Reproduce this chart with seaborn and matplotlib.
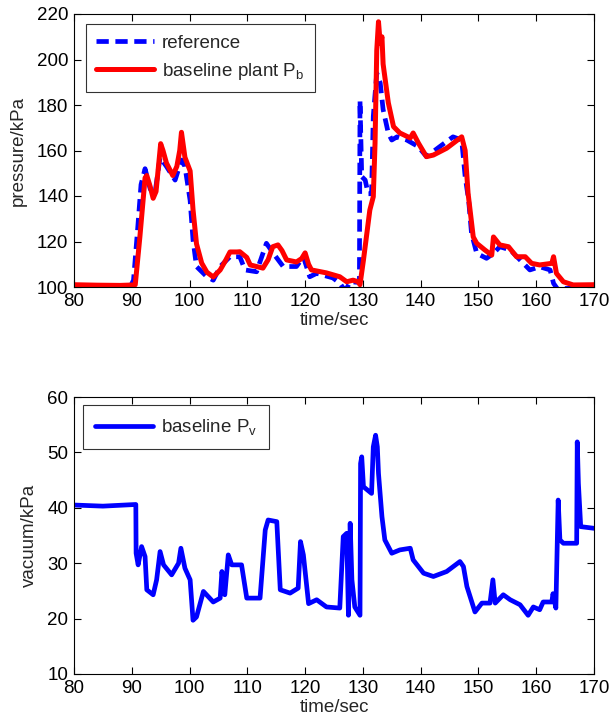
import matplotlib
matplotlib.use("Agg")
import matplotlib.pyplot as plt
import seaborn as sns
import pandas as pd

# --- brake chamber pressure: reference trajectory ---
ref_t = [80, 85, 89.8, 90.3, 91.0, 91.6, 92.3, 93.2, 94.0, 94.9, 96.0, 97.5, 98.6,
         99.2, 100.1, 100.6, 101.2, 103, 104.1, 105.3, 107, 108.7, 109.6, 111.6,
         113.3, 114.5, 116.2, 118.5, 119.7, 120.8, 122, 124.8, 126, 126.6, 127.1,
         127.8, 129.4, 129.5, 129.8, 130.4, 130.9, 131.5, 131.8, 132.4, 133, 133.5,
         134.4, 135, 135.9, 137.6, 139.6, 141, 143.3, 145.6, 147.1, 147.7, 148.3,
         148.8, 149.7, 151.4, 152.6, 153.7, 155.5, 157.2, 158.9, 160.6, 162.4, 163,
         163.8, 164.5, 167, 170]
ref_p = [100.3, 100.3, 100.4, 103, 125, 145, 152, 143, 141, 157, 153, 147, 155.8,
         153, 138, 120.7, 109, 104.5, 103, 109, 113.3, 113.3, 107.5, 106.7,
         119.2, 114.8, 109, 109, 113.3, 104.5, 106, 104, 101.7, 99.5, 99,
         102.3, 102, 182, 148.5, 147, 141, 141, 175, 194, 189.7, 178,
         167.6, 164.6, 166, 164.6, 161.7, 157.3, 161.7, 166, 164.6, 148.5, 138.2,
         123.6, 114.8, 112.6, 114.8, 117.7, 116.3, 111.9, 107.5, 108.9, 107.5, 101.6,
         98.7, 99.3, 99.5, 100.3]

# --- brake chamber pressure: baseline plant ---
pb_t = [80, 84, 88, 90.3, 90.6, 91.4, 92.3, 92.6, 93.2, 93.7, 94.2, 95.0, 95.4,
        96.0, 97.1, 97.8, 98.3, 98.6, 99.2, 100.1, 100.6, 101.2, 102.1, 103, 104.1,
        105.3, 106.2, 107, 108.2, 108.7, 109.9, 110.5, 112.7, 113.6, 114.4, 115.3,
        116.0, 116.8, 118.5, 119.4, 120, 120.6, 121.1, 123.7, 126, 127.2, 128.3,
        129.2, 129.5, 130.1, 131.2, 131.8, 132.1, 132.4, 132.7, 133, 133.3, 133.5,
        134.4, 135.3, 136.4, 138.2, 138.7, 139.6, 141, 142.2, 144.5, 147.1, 147.7,
        148.2, 149.1, 149.7, 151.1, 152.3, 152.6, 153.7, 155.2, 156.6, 158.1, 159.2,
        160.6, 162.7, 163, 163.5, 164.7, 166.4, 170]
pb_p = [101, 100.8, 100.7, 100.9, 101, 122, 148, 149, 144, 139, 142, 163, 160,
        154.5, 149, 153, 160, 168, 157, 151, 134, 119, 110.5, 106.5, 104.4,
        107.5, 111.5, 115.4, 115.4, 115.5, 113, 109.7, 108.3, 112, 117.7, 118.5,
        116, 111.9, 111, 112.5, 115, 110, 107.5, 106.2, 104.5, 102.3, 103,
        102.3, 101, 111.9, 133.8, 139.7, 163, 204, 216.6, 207, 210, 198,
        181, 170.5, 167.7, 165.5, 167.7, 163.3, 157.3, 158, 161, 166, 160,
        141.3, 122, 119.2, 116.3, 114, 122, 118.5, 117.7, 113.3, 113.3, 110.4,
        109.7, 110.4, 113.3, 106, 102.3, 100.9, 101]

# --- vacuum level of the baseline plant ---
pv_t = [80, 85, 90.7, 90.75, 91.1, 91.7, 92.3, 92.6, 93.7, 94.3, 94.9, 95.5, 96.9,
        98.1, 98.5, 99.2, 100.1, 100.6, 101.2, 102.4, 104.1, 105.3, 105.6, 106.1,
        106.7, 107.3, 109, 109.9, 112.2, 113.1, 113.6, 115.1, 115.7, 117.4, 118.8,
        119.2, 119.7, 120.6, 122, 123.7, 126, 126.6, 127.2, 127.5, 127.8, 128.1,
        128.6, 129.5, 129.6, 129.8, 130.1, 131.5, 131.8, 132.2, 132.5, 132.7, 133.3,
        133.8, 135, 136.4, 138.2, 138.7, 140.5, 142.2, 144.5, 146.8, 147.4, 148,
        149.4, 150.6, 152, 152.5, 152.9, 154.3, 155.5, 157.2, 158.6, 159.5, 160.6,
        161.2, 162.7, 162.9, 163.4, 163.8, 164.1, 164.7, 167, 167.1, 167.3, 167.7, 170]
pv_v = [40.5, 40.3, 40.6, 31.8, 29.7, 33, 31.2, 25.2, 24.3, 27, 32.1, 29.7, 27.9,
        30, 32.7, 29.1, 27, 19.7, 20.3, 24.9, 23, 23.7, 28.5, 24.3,
        31.5, 29.7, 29.7, 23.7, 23.7, 36, 37.8, 37.5, 25.2, 24.6, 25.5,
        33.9, 31.5, 22.7, 23.4, 22.1, 21.9, 34.8, 35.4, 20.6, 37.2, 27,
        22.1, 20.6, 48, 49.2, 43.8, 42.6, 51, 53.1, 51, 46.2, 38.4,
        34.2, 31.8, 32.4, 32.7, 30.6, 28.2, 27.6, 28.5, 30.3, 29.4, 25.8,
        21.2, 22.8, 22.8, 27, 22.8, 24.3, 23.4, 22.5, 20.6, 22.1, 21.6,
        23, 23, 24.5, 21.9, 41.4, 34.2, 33.6, 33.6, 51.9, 44.4, 36.6, 36.3]

time_ticks = [80, 90, 100, 110, 120, 130, 140, 150, 160, 170]
pressure_ticks = [100, 120, 140, 160, 180, 200, 220]
vacuum_ticks = [10, 20, 30, 40, 50, 60]

sns.set_style("ticks")
plt.rcParams["font.family"] = ["Liberation Sans", "DejaVu Sans"]
plt.rcParams["mathtext.fontset"] = "custom"
plt.rcParams["mathtext.rm"] = "Liberation Sans"
plt.rcParams["mathtext.it"] = "Liberation Sans:italic"
FS = 13.5

ref_df = pd.DataFrame({"t": ref_t, "p": ref_p})
pb_df = pd.DataFrame({"t": pb_t, "p": pb_p})
pv_df = pd.DataFrame({"t": pv_t, "v": pv_v})

fig = plt.figure(figsize=(6.12, 7.25), dpi=100)
ax1 = fig.add_axes([74 / 612, 1 - 287 / 725, 520 / 612, 273 / 725])
ax2 = fig.add_axes([74 / 612, 1 - 674 / 725, 520 / 612, 277 / 725])

sns.lineplot(data=ref_df, x="t", y="p", ax=ax1, color="#0000ff", lw=3.4,
             linestyle=(0, (2.6, 1.4)), estimator=None, sort=False, label="reference")
sns.lineplot(data=pb_df, x="t", y="p", ax=ax1, color="#ff0000", lw=3.6,
             estimator=None, sort=False, label=r"baseline plant P$_{\mathrm{b}}$")
sns.lineplot(data=pv_df, x="t", y="v", ax=ax2, color="#0000ff", lw=3.4,
             estimator=None, sort=False, label=r"baseline P$_{\mathrm{v}}$")

for ax, yt, ylab in [(ax1, pressure_ticks, "pressure/kPa"),
                     (ax2, vacuum_ticks, "vacuum/kPa")]:
    ax.set_xlim(time_ticks[0], time_ticks[-1])
    ax.set_ylim(yt[0], yt[-1])
    ax.set_xticks(time_ticks)
    ax.set_yticks(yt)
    ax.tick_params(direction="in", length=5, width=0.8, labelsize=FS, pad=4,
                   top=True, right=True, colors="black")
    for s in ax.spines.values():
        s.set_visible(True)
        s.set_linewidth(0.8)
        s.set_color("black")
    ax.set_xlabel("time/sec", fontsize=FS, labelpad=2)
    ax.set_ylabel(ylab, fontsize=FS, labelpad=7)

leg1 = ax1.legend(loc="upper left", bbox_to_anchor=(0.023, 0.963), borderaxespad=0,
                  fontsize=FS, frameon=True, fancybox=False, edgecolor="black",
                  handlelength=3.1, handletextpad=0.4, labelspacing=0.5,
                  borderpad=0.55)
leg1.get_frame().set_linewidth(0.8)
leg2 = ax2.legend(loc="upper left", bbox_to_anchor=(0.017, 0.971), borderaxespad=0,
                  fontsize=FS, frameon=True, fancybox=False, edgecolor="black",
                  handlelength=3.1, handletextpad=0.4, borderpad=0.65)
leg2.get_frame().set_linewidth(0.8)

fig.savefig("out.png", dpi=100, facecolor="white")
